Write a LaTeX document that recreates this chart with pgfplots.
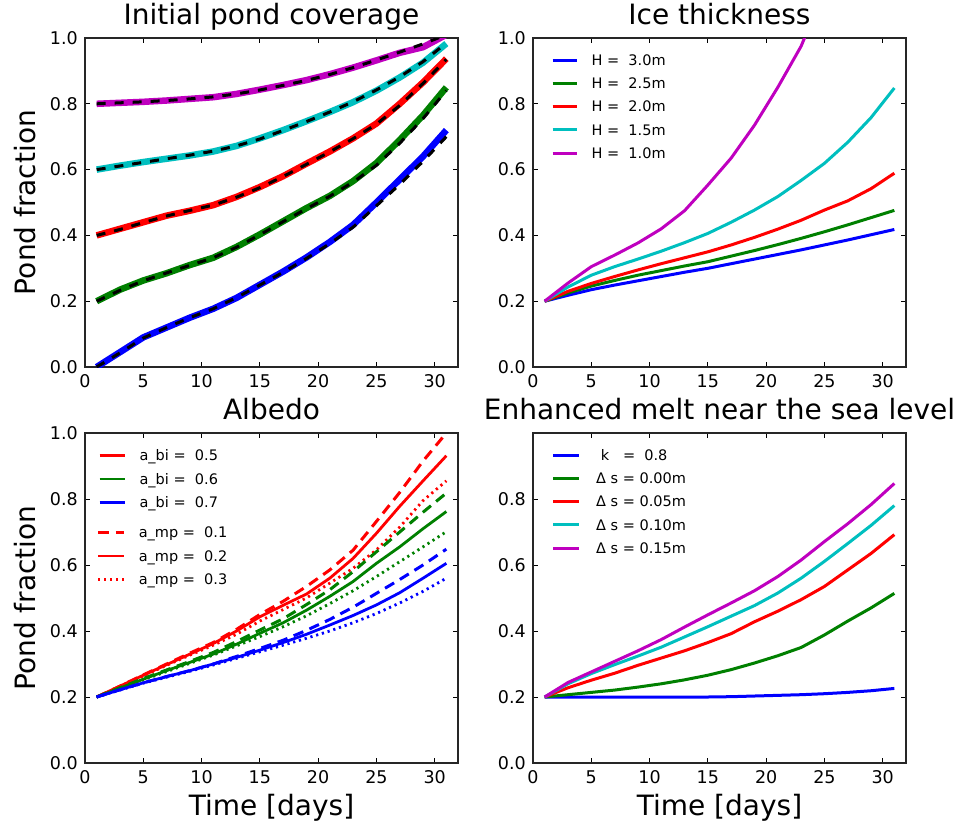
\documentclass[border=0pt]{standalone}
\usepackage{fontspec}
\setmainfont{DejaVu Sans}
\usepackage{pgfplots}
\usepackage{pgfplotstable}
\pgfplotsset{compat=1.18}

\definecolor{mplblue}{rgb}{0,0,1}
\definecolor{mplgreen}{rgb}{0,0.5,0}
\definecolor{mplred}{rgb}{1,0,0}
\definecolor{mplcyan}{rgb}{0,0.75,0.75}
\definecolor{mplmagenta}{rgb}{0.75,0,0.75}

\newcommand{\tickfont}{\fontsize{17.5}{20}\selectfont}
\newcommand{\bigfont}{\fontsize{28}{32}\selectfont}
\newcommand{\legfont}{\fontsize{14.5}{17}\selectfont}

% initial pond coverage: colour line and black dashed twin
\pgfplotstableread{
x  b     bd    g     gd    r     rd    c     cd    m     md
1  0.000 0.000 0.200 0.200 0.400 0.400 0.600 0.600 0.800 0.800
3  0.045 0.043 0.235 0.233 0.420 0.418 0.612 0.611 0.803 0.803
5  0.090 0.088 0.263 0.262 0.440 0.439 0.623 0.622 0.806 0.806
7  0.120 0.120 0.285 0.286 0.460 0.459 0.633 0.633 0.810 0.810
9  0.150 0.150 0.310 0.309 0.475 0.476 0.643 0.644 0.815 0.815
11 0.177 0.177 0.332 0.332 0.492 0.492 0.655 0.656 0.820 0.821
13 0.210 0.211 0.365 0.364 0.517 0.516 0.672 0.672 0.830 0.830
15 0.250 0.249 0.403 0.402 0.547 0.545 0.695 0.693 0.843 0.842
17 0.290 0.288 0.443 0.442 0.580 0.579 0.720 0.719 0.857 0.856
19 0.333 0.330 0.483 0.481 0.618 0.616 0.747 0.746 0.872 0.871
21 0.380 0.375 0.520 0.519 0.655 0.654 0.775 0.775 0.890 0.889
23 0.432 0.425 0.565 0.562 0.695 0.694 0.805 0.806 0.910 0.910
25 0.500 0.490 0.620 0.613 0.740 0.738 0.840 0.842 0.932 0.933
27 0.570 0.555 0.690 0.680 0.800 0.795 0.880 0.882 0.955 0.957
29 0.640 0.625 0.765 0.755 0.865 0.862 0.925 0.928 0.972 0.982
31 0.720 0.700 0.850 0.840 0.937 0.935 0.983 0.985 1.010 1.010
}\tlcov

% ice thickness (H = 1.0m is given separately, it leaves the axis)
\pgfplotstableread{
x  h30   h25   h20   h15
1  0.200 0.200 0.200 0.200
3  0.218 0.225 0.230 0.243
5  0.235 0.246 0.254 0.279
7  0.249 0.263 0.275 0.305
9  0.262 0.279 0.295 0.328
11 0.275 0.293 0.314 0.352
13 0.288 0.307 0.332 0.378
15 0.300 0.320 0.350 0.406
17 0.314 0.337 0.371 0.440
19 0.328 0.354 0.394 0.477
21 0.342 0.372 0.419 0.518
23 0.356 0.391 0.446 0.567
25 0.371 0.411 0.477 0.619
27 0.386 0.432 0.505 0.683
29 0.402 0.454 0.542 0.758
31 0.418 0.476 0.589 0.848
}\trice

% albedo: d = a_mp 0.1 (dashed), s = 0.2 (solid), t = 0.3 (dotted)
\pgfplotstableread{
x  rd    rs    rt    gd    gs    gt    bd    bs    bt
1  0.200 0.200 0.200 0.200 0.200 0.200 0.200 0.200 0.200
3  0.233 0.233 0.232 0.228 0.227 0.226 0.222 0.222 0.221
5  0.267 0.266 0.264 0.256 0.254 0.252 0.243 0.243 0.242
7  0.300 0.298 0.296 0.282 0.280 0.277 0.262 0.262 0.260
9  0.333 0.330 0.327 0.308 0.305 0.302 0.280 0.280 0.278
11 0.365 0.362 0.357 0.335 0.330 0.327 0.300 0.300 0.297
13 0.405 0.400 0.390 0.368 0.360 0.355 0.323 0.320 0.317
15 0.450 0.443 0.430 0.403 0.393 0.383 0.347 0.342 0.337
17 0.490 0.478 0.465 0.437 0.425 0.413 0.372 0.365 0.357
19 0.535 0.512 0.500 0.480 0.463 0.446 0.402 0.390 0.378
21 0.585 0.560 0.545 0.525 0.505 0.483 0.435 0.418 0.400
23 0.645 0.620 0.590 0.580 0.550 0.522 0.472 0.447 0.425
25 0.732 0.696 0.646 0.640 0.605 0.565 0.514 0.479 0.453
27 0.820 0.778 0.715 0.700 0.655 0.610 0.556 0.516 0.485
29 0.915 0.855 0.795 0.760 0.710 0.655 0.600 0.560 0.520
31 1.000 0.931 0.855 0.818 0.762 0.701 0.648 0.605 0.560
}\blalb

% enhanced melt near the sea level
\pgfplotstableread{
x  k     s00   s05   s10   s15
1  0.200 0.200 0.200 0.200 0.200
3  0.200 0.207 0.228 0.240 0.244
5  0.200 0.214 0.251 0.271 0.276
7  0.200 0.221 0.272 0.298 0.308
9  0.200 0.230 0.296 0.324 0.340
11 0.200 0.240 0.318 0.351 0.374
13 0.200 0.252 0.340 0.382 0.412
15 0.200 0.266 0.365 0.413 0.449
17 0.201 0.283 0.392 0.445 0.485
19 0.203 0.303 0.428 0.477 0.522
21 0.205 0.325 0.460 0.515 0.565
23 0.207 0.350 0.495 0.560 0.615
25 0.210 0.388 0.535 0.611 0.671
27 0.214 0.430 0.585 0.665 0.725
29 0.219 0.470 0.635 0.720 0.783
31 0.226 0.514 0.692 0.780 0.847
}\brmelt

\pgfplotsset{
  mplpanel/.style={
    scale only axis, width=373pt,
    xmin=0, xmax=32, ymin=0, ymax=1,
    xtick={0,5,10,15,20,25,30},
    ytick={0,0.2,0.4,0.6,0.8,1},
    tick align=inside, major tick length=5pt,
    tick style={black, line width=0.8pt},
    axis line style={black!85, line width=1.1pt},
    /pgf/number format/assume math mode=true,
    tick label style={font=\tickfont},
    yticklabel={\pgfmathprintnumber[fixed,fixed zerofill,precision=1]{\tick}},
    yticklabel style={anchor=east, inner sep=0pt, xshift=-7pt},
    xticklabel style={anchor=base, inner sep=0pt, yshift=-20.5pt},
    title style={font=\bigfont, at={(axis description cs:0.5,1)}, anchor=base, yshift=8pt},
    xlabel style={font=\bigfont, at={(axis description cs:0.5,-0.1576)}, anchor=base},
    ylabel style={font=\bigfont, at={(axis description cs:-0.134,0.5)}, anchor=base},
    every axis plot/.append style={line join=round},
    legend cell align=left,
    legend style={draw=none, fill=none, font=\legfont, at={(0,1)}, anchor=north west,
      inner sep=0pt, outer sep=0pt, column sep=0pt, row sep=12.8pt,
      nodes={inner sep=0pt, text height=10.5pt, text depth=0pt}},
  },
  thick line/.style={line width=3pt},
  dashedline/.style={line width=3pt, dash pattern=on 10.5pt off 6.7pt},
  solidline/.style={line width=2.8pt},
  dottedline/.style={line width=2.8pt, dash pattern=on 2.2pt off 3.8pt},
}

\begin{document}
\begin{tikzpicture}
\path[use as bounding box] (0pt,0pt) rectangle (955pt,-827pt);

% ---------------- top left
\begin{axis}[mplpanel, height=329pt, at={(85pt,-38pt)}, anchor=north west,
  title={Initial pond coverage}, ylabel={Pond fraction}]
\addplot[mplblue, line width=6.5pt] table[x=x, y=b] {\tlcov};
\addplot[black, line width=3pt, dash pattern=on 9pt off 9pt] table[x=x, y=bd] {\tlcov};
\addplot[mplgreen, line width=6.5pt] table[x=x, y=g] {\tlcov};
\addplot[black, line width=3pt, dash pattern=on 9pt off 9pt] table[x=x, y=gd] {\tlcov};
\addplot[mplred, line width=6.5pt] table[x=x, y=r] {\tlcov};
\addplot[black, line width=3pt, dash pattern=on 9pt off 9pt] table[x=x, y=rd] {\tlcov};
\addplot[mplcyan, line width=6.5pt] table[x=x, y=c] {\tlcov};
\addplot[black, line width=3pt, dash pattern=on 9pt off 9pt] table[x=x, y=cd] {\tlcov};
\addplot[mplmagenta, line width=6.5pt] table[x=x, y=m] {\tlcov};
\addplot[black, line width=3pt, dash pattern=on 9pt off 9pt] table[x=x, y=md] {\tlcov};
\end{axis}

% ---------------- top right
\begin{axis}[mplpanel, height=329pt, at={(533pt,-38pt)}, anchor=north west,
  title={Ice thickness},
  legend image code/.code={\draw[#1] (0pt,0pt) -- (24pt,0pt); \path (37.6pt,0pt);},
  legend style={xshift=18pt, yshift=-16.75pt}]
\addplot[mplblue, thick line] table[x=x, y=h30] {\trice};
\addlegendentry{H =\ \ 3.0m}
\addplot[mplgreen, thick line] table[x=x, y=h25] {\trice};
\addlegendentry{H =\ \ 2.5m}
\addplot[mplred, thick line] table[x=x, y=h20] {\trice};
\addlegendentry{H =\ \ 2.0m}
\addplot[mplcyan, thick line] table[x=x, y=h15] {\trice};
\addlegendentry{H =\ \ 1.5m}
\addplot[mplmagenta, thick line] coordinates {
  (1,0.200) (3,0.255) (5,0.305) (7,0.340) (9,0.377) (11,0.420) (13,0.475)
  (15,0.553) (17,0.635) (19,0.735) (21,0.850) (23,0.975) (24,1.060)};
\addlegendentry{H =\ \ 1.0m}
\end{axis}

% ---------------- bottom left
\begin{axis}[mplpanel, height=330pt, at={(85pt,-433pt)}, anchor=north west,
  title={Albedo}, xlabel={Time [days]}, ylabel={Pond fraction},
  legend image code/.code={\draw[#1] (0pt,0pt) -- (25.7pt,0pt); \path (38.5pt,0pt);},
  legend style={xshift=13.3pt, yshift=-17.45pt}]
\addlegendimage{mplred, solidline}
\addlegendentry{a\_bi =\ \ 0.5}
\addlegendimage{mplgreen, solidline}
\addlegendentry{a\_bi =\ \ 0.6}
\addlegendimage{mplblue, solidline}
\addlegendentry{a\_bi =\ \ 0.7}
\addplot[mplred, dashedline] table[x=x, y=rd] {\blalb};
\addplot[mplred, solidline] table[x=x, y=rs] {\blalb};
\addplot[mplred, dottedline] table[x=x, y=rt] {\blalb};
\addplot[mplgreen, dashedline] table[x=x, y=gd] {\blalb};
\addplot[mplgreen, solidline] table[x=x, y=gs] {\blalb};
\addplot[mplgreen, dottedline] table[x=x, y=gt] {\blalb};
\addplot[mplblue, dashedline] table[x=x, y=bd] {\blalb};
\addplot[mplblue, solidline] table[x=x, y=bs] {\blalb};
\addplot[mplblue, dottedline] table[x=x, y=bt] {\blalb};
\end{axis}

% second legend of the albedo panel
\begin{axis}[mplpanel, height=330pt, at={(85pt,-433pt)}, anchor=north west, hide axis,
  legend image code/.code={\draw[#1] (0pt,0pt) -- (25.6pt,0pt); \path (39.1pt,0pt);},
  legend style={xshift=11.7pt, yshift=-94.45pt}]
\addlegendimage{mplred, line width=3pt, dash pattern=on 11pt off 6.7pt}
\addlegendentry{a\_mp =\ \ 0.1}
\addlegendimage{mplred, solidline}
\addlegendentry{a\_mp =\ \ 0.2}
\addlegendimage{mplred, dottedline}
\addlegendentry{a\_mp =\ \ 0.3}
\end{axis}

% ---------------- bottom right
\begin{axis}[mplpanel, height=330pt, at={(533pt,-433pt)}, anchor=north west,
  title={Enhanced melt near the sea level}, xlabel={Time [days]},
  ytick={0,0.2,0.4,0.6,0.8},
  legend image code/.code={\draw[#1] (0pt,0pt) -- (25.6pt,0pt); \path (41.5pt,0pt);},
  legend style={xshift=18.7pt, yshift=-16.75pt}]
\addplot[mplblue, thick line] table[x=x, y=k] {\brmelt};
\addlegendentry{\ k\ \ \ =\ \ 0.8}
\addplot[mplgreen, thick line] table[x=x, y=s00] {\brmelt};
\addlegendentry{Δ s = 0.00m}
\addplot[mplred, thick line] table[x=x, y=s05] {\brmelt};
\addlegendentry{Δ s = 0.05m}
\addplot[mplcyan, thick line] table[x=x, y=s10] {\brmelt};
\addlegendentry{Δ s = 0.10m}
\addplot[mplmagenta, thick line] table[x=x, y=s15] {\brmelt};
\addlegendentry{Δ s = 0.15m}
\end{axis}
\end{tikzpicture}
\end{document}
